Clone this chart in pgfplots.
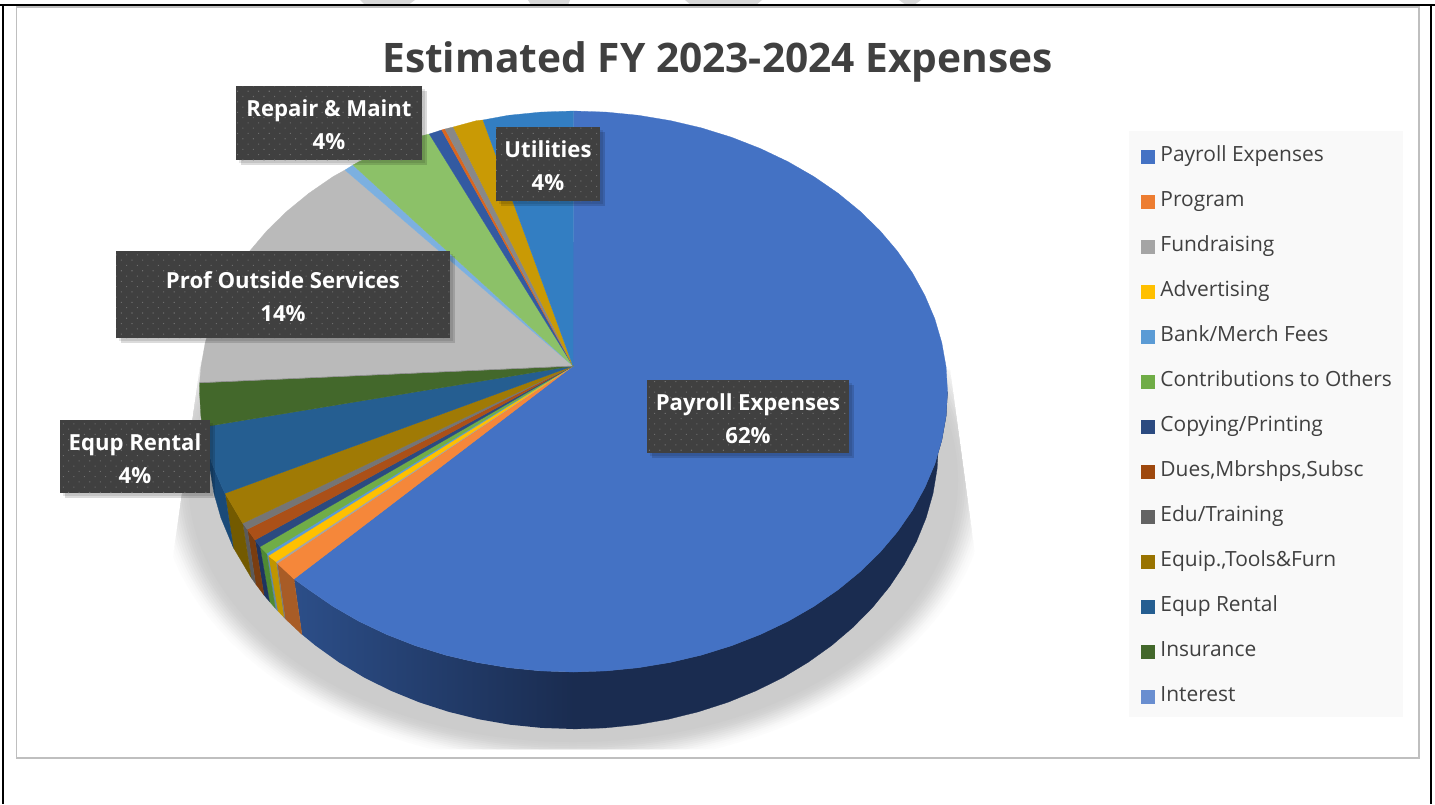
\documentclass[border=0pt]{standalone}
\usepackage{fontspec}
\setmainfont{Open Sans}
\usepackage{pgfplots}
\pgfplotsset{compat=1.18}
\usetikzlibrary{patterns.meta}
\definecolor{cPay}{HTML}{4472C4}
\definecolor{cPayS}{HTML}{2C4E88}
\definecolor{cDark}{HTML}{1A2C50}
\definecolor{cProg}{HTML}{F5873A}
\definecolor{cLegOr}{HTML}{ED7D31}
\definecolor{cProgS}{HTML}{A85C26}
\definecolor{cFund}{HTML}{A5A5A5}
\definecolor{cFundS}{HTML}{7A7A7A}
\definecolor{cAdv}{HTML}{FFC000}
\definecolor{cAdvS}{HTML}{C09500}
\definecolor{cBank}{HTML}{5B9BD5}
\definecolor{cBankS}{HTML}{5F88A8}
\definecolor{cCont}{HTML}{70AD47}
\definecolor{cContS}{HTML}{4F8A33}
\definecolor{cCopy}{HTML}{2B4A80}
\definecolor{cCopyS}{HTML}{1E3460}
\definecolor{cDues}{HTML}{AB5018}
\definecolor{cLegDues}{HTML}{9E480E}
\definecolor{cDuesS}{HTML}{7A3D10}
\definecolor{cEdu}{HTML}{757575}
\definecolor{cLegEdu}{HTML}{636363}
\definecolor{cEduS}{HTML}{5A5A5A}
\definecolor{cEquip}{HTML}{A07A05}
\definecolor{cLegEquip}{HTML}{997300}
\definecolor{cEquipS}{HTML}{735A00}
\definecolor{cRent}{HTML}{255E91}
\definecolor{cRentS}{HTML}{1A4A78}
\definecolor{cIns}{HTML}{43682B}
\definecolor{cInt}{HTML}{8A8A8A}
\definecolor{cLegInt}{HTML}{698ED0}
\definecolor{cProf}{HTML}{BABABA}
\definecolor{cLb}{HTML}{7CB0E0}
\definecolor{cRep}{HTML}{8CC168}
\definecolor{cNav}{HTML}{335AA1}
\definecolor{cOr}{HTML}{D9661F}
\definecolor{cGy}{HTML}{888888}
\definecolor{cGold}{HTML}{C99A05}
\definecolor{cUtil}{HTML}{337EC2}
\definecolor{cBox}{HTML}{404040}
\newcommand\lab[9]{%
  \fill[black,opacity=.10,xshift=2pt,yshift=-2pt] (axis cs:#1,#2) rectangle (axis cs:#3,#4);
  \fill[black,opacity=.14,xshift=3.5pt,yshift=-3.5pt] (axis cs:#1,#2) rectangle (axis cs:#3,#4);
  \fill[cBox] (axis cs:#1,#2) rectangle (axis cs:#3,#4);
  \fill[pattern={Dots[angle=45,distance=5.6pt,radius=.55pt]},pattern color=white!24!cBox] (axis cs:#1,#2) rectangle (axis cs:#3,#4);
  \node[anchor=base,text=white,inner sep=0pt,font=\fontsize{16.6}{18}\selectfont\bfseries] at (axis cs:#5,#6) {#7};
  \node[anchor=base,text=white,inner sep=0pt,font=\fontsize{16.6}{18}\selectfont\bfseries] at (axis cs:#5,#8) {#9};
}
\pgfplotsset{slice/.style={forget plot,fill=#1,draw=#1,line width=.2pt}}
\begin{document}
\begin{tikzpicture}
\begin{axis}[
  scale only axis, width=1076.25pt, height=603pt,
  xmin=0, xmax=1435, ymin=0, ymax=804, y dir=reverse,
  hide axis, no markers, enlargelimits=false,
  legend cell align=left,
  legend image code/.code={\fill[#1,draw=none] (0pt,-5.25pt) rectangle (10.5pt,5.25pt); \path[draw=none,fill=none] (0pt,0pt) -- (14.5pt,0pt);},
  legend style={
    at={(axis description cs:0.7952,0.8174)}, anchor=north west,
    draw=none, fill=none, inner sep=0pt, outer sep=0pt,
    row sep=19pt, text=cBox,
    font=\fontsize{15.7}{16}\selectfont,
    nodes={inner sep=0pt, text height=11pt, text depth=3.75pt},
  },
]
% page furniture
\fill[white] (axis cs:0,0) rectangle (axis cs:1435,804);
\fill[gray!30] (axis cs:360,0) -- (axis cs:415,0) -- (axis cs:408,5) -- (axis cs:365,5) -- cycle;
\fill[gray!30] (axis cs:528,0) -- (axis cs:570,0) -- (axis cs:568,5) -- (axis cs:531,5) -- cycle;
\fill[gray!30] (axis cs:685,0) -- (axis cs:762,0) -- (axis cs:756,5) -- (axis cs:691,5) -- cycle;
\fill[gray!30] (axis cs:899,0) -- (axis cs:921,0) -- (axis cs:914,5) -- (axis cs:906,5) -- cycle;
\draw[black,line width=1.1pt] (axis cs:0,5) -- (axis cs:1435,5);
\draw[black,line width=1.1pt] (axis cs:3,5) -- (axis cs:3,804);
\draw[black,line width=1.1pt] (axis cs:1431,5) -- (axis cs:1431,804);
\draw[black!25,line width=1.3pt] (axis cs:16.5,7) rectangle (axis cs:1419,758);
% soft shadow of the pie
\begin{scope}
\clip (axis cs:201,360) -- (axis cs:146,749) -- (axis cs:1001,749) -- (axis cs:950,370) -- cycle;
\fill[black!1]  (axis cs:573,480) ellipse [x radius=311.25pt, y radius=214.5pt];
\fill[black!2]  (axis cs:573,480) ellipse [x radius=309.4pt,  y radius=213pt];
\fill[black!3]  (axis cs:573,480) ellipse [x radius=307.5pt,  y radius=211.5pt];
\fill[black!5]  (axis cs:573,480) ellipse [x radius=305.6pt,  y radius=210pt];
\fill[black!7]  (axis cs:573,480) ellipse [x radius=303.75pt, y radius=208.5pt];
\fill[black!9]  (axis cs:573,480) ellipse [x radius=301.9pt,  y radius=207pt];
\fill[black!11] (axis cs:573,480) ellipse [x radius=300pt,    y radius=205.5pt];
\fill[black!13] (axis cs:573,480) ellipse [x radius=298.1pt,  y radius=204pt];
\fill[black!15] (axis cs:573,480) ellipse [x radius=296.25pt, y radius=202.5pt];
\fill[black!17] (axis cs:573,480) ellipse [x radius=294.4pt,  y radius=201pt];
\fill[black!18] (axis cs:573,480) ellipse [x radius=292.5pt,  y radius=199.5pt];
\fill[black!19] (axis cs:573,480) ellipse [x radius=290.6pt,  y radius=198pt];
\fill[black!20] (axis cs:573,480) ellipse [x radius=288.75pt, y radius=196.5pt];
\end{scope}
% side walls
\addplot[forget plot,fill=cDark,draw=cDark,line width=.2pt] coordinates {
(947.5,391.5)(946.1,415.9)(941.8,440.2)(934.8,464.1)(924.9,487.4)(912.5,510.0)(897.4,531.8)(879.9,552.4)(860.0,571.8)(838.0,589.8)(813.9,606.4)(788.0,621.3)(760.5,634.4)(731.6,645.7)(701.4,655.1)(670.3,662.4)(638.4,667.7)(606.1,670.9)(573.5,672)
(573.5,729)(605.3,727.9)(636.9,724.7)(668.0,719.3)(698.3,711.8)(727.8,702.3)(756.0,690.8)(782.9,677.5)(808.1,662.3)(831.6,645.5)(853.1,627.2)(872.5,607.5)(889.6,586.5)(904.3,564.4)(916.5,541.5)(926.1,517.8)(933.0,493.5)(937.1,468.8)(938.5,444)
} -- cycle;
\addplot[forget plot,left color=cPayS,right color=cDark,draw=none] coordinates {
(574,672)(540.9,670.9)(508.6,667.7)(476.7,662.4)(445.6,655.1)(415.4,645.7)(386.5,634.4)(359.0,621.3)(333.1,606.4)(309.0,589.8)(294,579)
(301.9,634.4)(315.4,645.5)(338.9,662.3)(364.1,677.5)(391.0,690.8)(419.2,702.3)(448.7,711.8)(479.0,719.3)(510.1,724.7)(541.7,727.9)(574,729)
} -- cycle;
\addplot[slice=cProgS] coordinates {(294,579)(277.3,563.3)(285.2,618.7)(301.9,634.4)} -- cycle;
\addplot[slice=cFundS] coordinates {(277.3,563.3)(276,561.7)(283.7,617.0)(285.2,618.7)} -- cycle;
\addplot[slice=cAdvS] coordinates {(276,561.7)(268.3,555.7)(277.5,610.7)(283.7,617.0)} -- cycle;
\addplot[slice=cBankS] coordinates {(268.3,555.7)(266.7,553.3)(275.3,608.2)(277.5,610.7)} -- cycle;
\addplot[slice=cContS] coordinates {(266.7,553.3)(260,546.7)(269.5,601.6)(275.3,608.2)} -- cycle;
\addplot[slice=cCopyS] coordinates {(260,546.7)(255,540)(264.0,595.1)(269.5,601.6)} -- cycle;
\addplot[slice=cDuesS] coordinates {(255,540)(247.3,529.3)(255.6,583.9)(264.0,595.1)} -- cycle;
\addplot[slice=cEduS] coordinates {(247.3,529.3)(242.7,523.3)(251.2,577.7)(255.6,583.9)} -- cycle;
\addplot[slice=cEquipS] coordinates {(242.7,523.3)(225,493.3)(233.3,547.5)(251.2,577.7)} -- cycle;
\addplot[slice=cRentS] coordinates {(225,493.3)(222.1,487.4)(212.2,464.1)(205.2,440.2)(202.5,427.1)(208.5,444)(209.9,468.8)(214,493.5)(220.9,517.8)(233.3,547.5)} -- cycle;
% top surface, clockwise from the top
\addplot[slice=cPay] coordinates {
(573,366)(573.5,111)(606.1,112.1)(638.4,115.3)(670.3,120.6)(701.4,127.9)(731.6,137.3)(760.5,148.6)(788.0,161.7)(813.9,176.6)(838.0,193.2)(860.0,211.2)(879.9,230.6)(897.4,251.2)(912.5,273.0)(924.9,295.6)(934.8,318.9)(941.8,342.8)(946.1,367.1)(947.5,391.5)(946.1,415.9)(941.8,440.2)(934.8,464.1)(924.9,487.4)(912.5,510.0)(897.4,531.8)(879.9,552.4)(860.0,571.8)(838.0,589.8)(813.9,606.4)(788.0,621.3)(760.5,634.4)(731.6,645.7)(701.4,655.1)(670.3,662.4)(638.4,667.7)(606.1,670.9)(573.5,672)(540.9,670.9)(508.6,667.7)(476.7,662.4)(445.6,655.1)(415.4,645.7)(386.5,634.4)(359.0,621.3)(333.1,606.4)(309.0,589.8)(294,579)
} -- cycle;
\addplot[slice=cProg] coordinates {(573,366)(294,579)(277.3,563.3)} -- cycle;
\addplot[slice=cFund] coordinates {(573,366)(277.3,563.3)(276,561.7)} -- cycle;
\addplot[slice=cAdv] coordinates {(573,366)(276,561.7)(268.3,555.7)} -- cycle;
\addplot[slice=cBank] coordinates {(573,366)(268.3,555.7)(266.7,553.3)} -- cycle;
\addplot[slice=cCont] coordinates {(573,366)(266.7,553.3)(260,546.7)} -- cycle;
\addplot[slice=cCopy] coordinates {(573,366)(260,546.7)(255,540)} -- cycle;
\addplot[slice=cDues] coordinates {(573,366)(255,540)(247.3,529.3)} -- cycle;
\addplot[slice=cEdu] coordinates {(573,366)(247.3,529.3)(242.7,523.3)} -- cycle;
\addplot[slice=cEquip] coordinates {(573,366)(242.7,523.3)(225,493.3)} -- cycle;
\addplot[slice=cRent] coordinates {(573,366)(225,493.3)(222.1,487.4)(212.2,464.1)(205.2,440.2)(202.5,427.1)} -- cycle;
\addplot[slice=cIns] coordinates {(573,366)(202.5,427.1)(200.9,415.9)(199.5,391.5)(199.7,382.7)} -- cycle;
\addplot[slice=cProf] coordinates {(573,366)(199.7,382.7)(200.9,367.1)(205.2,342.8)(212.2,318.9)(222.1,295.6)(234.5,273.0)(249.6,251.2)(267.1,230.6)(287.0,211.2)(309.0,193.2)(333.1,176.6)(345,170)} -- cycle;
\addplot[slice=cInt,line width=.4pt] coordinates {(573,366)(199.7,382.7)} ;
\addplot[slice=cLb] coordinates {(573,366)(345,170)(353,165)} -- cycle;
\addplot[slice=cRep] coordinates {(573,366)(353,165)(359,161.7)(386.5,148.6)(415.4,137.3)(429.3,134)} -- cycle;
\addplot[slice=cNav] coordinates {(573,366)(429.3,134)(441.7,130)} -- cycle;
\addplot[slice=cOr] coordinates {(573,366)(441.7,130)(445,129)} -- cycle;
\addplot[slice=cGy] coordinates {(573,366)(445,129)(453.3,127)} -- cycle;
\addplot[slice=cGold] coordinates {(573,366)(453.3,127)(476.7,120.6)(483,120)} -- cycle;
\addplot[slice=cUtil] coordinates {(573,366)(483,120)(508.6,115.3)(540.9,112.1)(573.5,111)} -- cycle;
% data labels
\lab{647}{380}{849}{453}{748}{410}{Payroll Expenses}{443}{62\%}
\lab{496}{127}{600}{201}{548}{157}{Utilities}{190}{4\%}
\lab{236}{86}{422}{160}{329}{116}{Repair \& Maint}{149}{4\%}
\lab{116}{251}{450}{338}{283}{288}{Prof Outside Services}{321}{14\%}
\lab{60}{420}{210}{493}{135}{450}{Equp Rental}{483}{4\%}
% title
\node[anchor=base,inner sep=0pt,text=cBox,font=\fontsize{30.5}{33}\selectfont\bfseries] at (axis cs:717.5,72) {Estimated FY 2023-2024 Expenses};
% legend panel and legend
\fill[black!2.5] (axis cs:1129,131) rectangle (axis cs:1403,717);
\addlegendimage{fill=cPay} \addlegendentry{Payroll Expenses}
\addlegendimage{fill=cLegOr} \addlegendentry{Program}
\addlegendimage{fill=cFund} \addlegendentry{Fundraising}
\addlegendimage{fill=cAdv} \addlegendentry{Advertising}
\addlegendimage{fill=cBank} \addlegendentry{Bank/Merch Fees}
\addlegendimage{fill=cCont} \addlegendentry{Contributions to Others}
\addlegendimage{fill=cCopy} \addlegendentry{Copying/Printing}
\addlegendimage{fill=cLegDues} \addlegendentry{Dues,Mbrshps,Subsc}
\addlegendimage{fill=cLegEdu} \addlegendentry{Edu/Training}
\addlegendimage{fill=cLegEquip} \addlegendentry{Equip.,Tools\&Furn}
\addlegendimage{fill=cRent} \addlegendentry{Equp Rental}
\addlegendimage{fill=cIns} \addlegendentry{Insurance}
\addlegendimage{fill=cLegInt} \addlegendentry{Interest}
\end{axis}
\end{tikzpicture}
\end{document}
